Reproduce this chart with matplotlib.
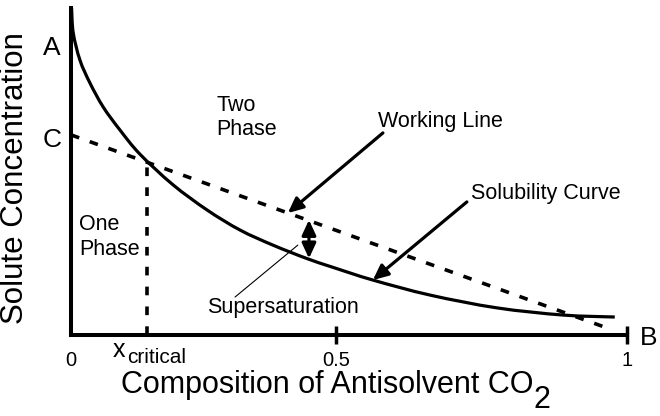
import matplotlib
matplotlib.use("Agg")
import matplotlib.pyplot as plt
from matplotlib.path import Path
from matplotlib.patches import PathPatch

plt.rcParams['font.family'] = ['Liberation Sans', 'DejaVu Sans']

# ---- data (schematic) ----
sol_x = [0.001, 0.004, 0.016, 0.034, 0.058, 0.088, 0.124, 0.183, 0.245,
         0.304, 0.363, 0.424, 0.471, 0.543, 0.646, 0.766, 0.885, 0.978]
sol_y = [1.000, 0.924, 0.841, 0.771, 0.697, 0.627, 0.553, 0.460, 0.382,
         0.321, 0.275, 0.234, 0.207, 0.168, 0.122, 0.083, 0.061, 0.055]
work_x = [0.0, 0.965]
work_y = [0.612, 0.021]
crit_x = [0.137, 0.137]
crit_y = [0.0, 0.528]
xtick_pos = [0.0, 0.477, 1.0]
xtick_labels = ['0', '0.5', '1']

fig = plt.figure(figsize=(6.6, 4.16), dpi=100)
ax = fig.add_axes([71/660, 81/416, 556/660, 327/416])
ax.set_xlim(0, 1)
ax.set_ylim(0, 1)

# smooth solubility curve through the read points (cubic Bezier path)
pts = list(zip(sol_x, sol_y))
ext = [pts[0]] + pts + [pts[-1]]
verts = [pts[0]]
codes = [Path.MOVETO]
for i in range(1, len(ext) - 2):
    p0, p1, p2, p3 = ext[i - 1], ext[i], ext[i + 1], ext[i + 2]
    c1 = (p1[0] + (p2[0] - p0[0]) / 6, p1[1] + (p2[1] - p0[1]) / 6)
    c2 = (p2[0] - (p3[0] - p1[0]) / 6, p2[1] - (p3[1] - p1[1]) / 6)
    verts += [c1, c2, p2]
    codes += [Path.CURVE4] * 3
ax.add_patch(PathPatch(Path(verts, codes), fill=False, lw=2.3,
                       edgecolor='black', clip_on=False, capstyle='butt'))

ax.plot(work_x, work_y, color='black', lw=2.6, dashes=(2.4, 3.1), clip_on=False)
ax.plot(crit_x, crit_y, color='black', lw=2.6, dashes=(2.4, 3.1), clip_on=False)

# axes styling
for s in ['top', 'right']:
    ax.spines[s].set_visible(False)
for s in ['left', 'bottom']:
    ax.spines[s].set_linewidth(2.9)
ax.set_yticks([])
ax.set_xticks(xtick_pos, xtick_labels)
ax.tick_params(axis='x', direction='inout', length=13, width=2.5,
               pad=5, labelsize=14.5)
ax.xaxis.get_major_ticks()[0].tick1line.set_visible(False)

ax.set_ylabel('Solute Concentration', fontsize=22.5)
ax.yaxis.set_label_coords(-0.074, 0.48)
ax.set_xlabel('Composition of Antisolvent CO', fontsize=22)
ax.xaxis.set_label_coords(0.46, -0.108)
ax.annotate('2', xy=(1, 0), xycoords=ax.xaxis.label, xytext=(0.5, -5.5),
            textcoords='offset points', ha='left', va='baseline', fontsize=22)

# end labels
ax.text(-0.034, 0.856, 'A', fontsize=19, ha='center', va='baseline')
ax.text(-0.034, 0.575, 'C', fontsize=19, ha='center', va='baseline')
ax.text(1.038, -0.031, 'B', fontsize=19, ha='center', va='baseline', clip_on=False)

# x critical
xt = ax.text(0.0755, -0.067, 'x', fontsize=18, ha='left', va='baseline')
ax.annotate('critical', xy=(1, 0), xycoords=xt, xytext=(1.5, -1),
            textcoords='offset points', ha='left', va='baseline', fontsize=15)

# region labels
fs = 15.5
ax.text(0.261, 0.685, 'Two', fontsize=fs, ha='left', va='baseline')
ax.text(0.261, 0.612, 'Phase', fontsize=fs, ha='left', va='baseline')
ax.text(0.0144, 0.321, 'One', fontsize=fs, ha='left', va='baseline')
ax.text(0.0144, 0.245, 'Phase', fontsize=fs, ha='left', va='baseline')
ax.text(0.552, 0.636, 'Working Line', fontsize=fs, ha='left', va='baseline')
ax.text(0.719, 0.416, 'Solubility Curve', fontsize=fs, ha='left', va='baseline')
ax.text(0.245, 0.067, 'Supersaturation', fontsize=fs, ha='left', va='baseline')

# arrows
head = '-|>,head_length=0.65,head_width=0.3'
ax.annotate('', xy=(0.390, 0.373), xytext=(0.561, 0.618),
            arrowprops=dict(arrowstyle=head, lw=2.3, color='black',
                            mutation_scale=14, shrinkA=0, shrinkB=0))
ax.annotate('', xy=(0.543, 0.168), xytext=(0.712, 0.407),
            arrowprops=dict(arrowstyle=head, lw=2.3, color='black',
                            mutation_scale=14, shrinkA=0, shrinkB=0))
ax.annotate('', xy=(0.428, 0.234), xytext=(0.428, 0.352),
            arrowprops=dict(arrowstyle='<|-|>,head_length=0.65,head_width=0.3',
                            lw=2.3, color='black', mutation_scale=14,
                            shrinkA=0, shrinkB=0))
# leader line for supersaturation
ax.annotate('', xy=(0.408, 0.275), xytext=(0.295, 0.116),
            arrowprops=dict(arrowstyle='-', lw=0.8, color='black',
                            shrinkA=0, shrinkB=0))

fig.savefig('out.png', dpi=100)
